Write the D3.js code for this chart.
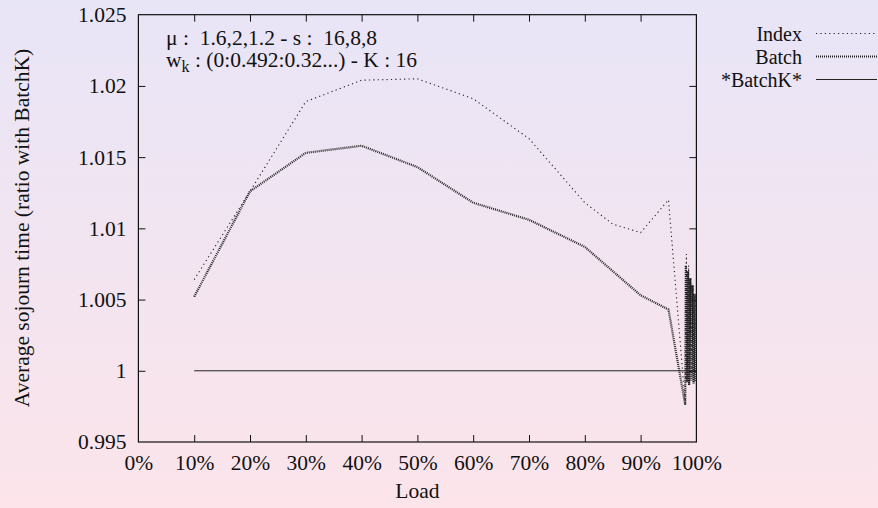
<!DOCTYPE html>
<html>
<head>
<meta charset="utf-8">
<script src="https://cdn.jsdelivr.net/npm/d3@7"></script>
<style>
  html, body { margin: 0; padding: 0; }
  svg { display: block; }
  svg text { font-family: "Liberation Serif", "Times New Roman", Tinos, "Noto Serif", "DejaVu Serif", FreeSerif, "Nimbus Roman", serif !important; }
  .pre { white-space: pre; }
</style>
</head>
<body>
<svg id="chart" width="878" height="508"></svg>
<script>
// ---- data ----
const indexLoads  = [0.10, 0.20, 0.30, 0.40, 0.50, 0.60, 0.70, 0.80, 0.85, 0.90, 0.95, 0.98,
                     0.982, 0.984, 0.986, 0.988, 0.990, 0.992, 0.994, 0.996, 0.998];
const indexValues = [1.0064, 1.0126, 1.0189, 1.0204, 1.0205, 1.0191, 1.0163, 1.0118, 1.0103, 1.0097, 1.0120, 0.9977,
                     1.0082, 0.9995, 1.0074, 0.9998, 1.0066, 0.9996, 1.0060, 1.0000, 1.0054];
const batchLoads  = [0.10, 0.20, 0.30, 0.40, 0.50, 0.60, 0.70, 0.80, 0.90, 0.95, 0.98,
                     0.981, 0.983, 0.985, 0.987, 0.989, 0.991, 0.993, 0.995, 0.997, 0.998];
const batchValues = [1.0052, 1.0126, 1.0153, 1.0158, 1.0143, 1.0118, 1.0106, 1.0087, 1.0053, 1.0043, 0.9976,
                     1.0074, 0.9992, 1.0070, 0.9990, 1.0065, 0.9993, 1.0060, 0.9991, 1.0054, 0.9993];
const batchKLoads  = [0.10, 1.00];
const batchKValues = [1.0, 1.0];
const xTicks = [0, 0.1, 0.2, 0.3, 0.4, 0.5, 0.6, 0.7, 0.8, 0.9, 1.0];
const yTicks = [0.995, 1.0, 1.005, 1.01, 1.015, 1.02, 1.025];
const yTickLabels = ["0.995", "1", "1.005", "1.01", "1.015", "1.02", "1.025"];
const seriesNames = ["Index", "Batch", "*BatchK*"];

// ---- layout ----
const W = 878, H = 508;
const mLeft = 138.4, mRight = 696.4, mTop = 14.7, mBottom = 442;
const svg = d3.select("#chart");

const defs = svg.append("defs");
const grad = defs.append("linearGradient").attr("id", "bg").attr("x1", 0).attr("y1", 0).attr("x2", 0).attr("y2", 1);
grad.append("stop").attr("offset", "0%").attr("stop-color", "#e8e5f7");
grad.append("stop").attr("offset", "100%").attr("stop-color", "#fce4ea");
svg.append("rect").attr("width", W).attr("height", H).attr("fill", "url(#bg)");

const x = d3.scaleLinear().domain([0, 1]).range([mLeft, mRight]);
const y = d3.scaleLinear().domain([0.995, 1.025]).range([mBottom, mTop]);

const fs = 21.5;
const axisColor = "#111";

function styleAxis(g) {
  g.attr("font-family", null);
  g.select(".domain").remove();
  g.selectAll(".tick line").attr("stroke", axisColor).attr("stroke-width", 1);
  g.selectAll(".tick text").attr("fill", "#111").style("font-size", fs + "px");
}

// bottom axis
svg.append("g").attr("transform", `translate(0,${mBottom})`)
  .call(d3.axisBottom(x).tickValues(xTicks).tickFormat(d => Math.round(d * 100) + "%")
    .tickSizeInner(-7).tickSizeOuter(0).tickPadding(13))
  .call(styleAxis)
  .call(g => g.selectAll(".tick").filter(d => d === 0 || d === 1).select("line").remove());
// top axis (mirror)
svg.append("g").attr("transform", `translate(0,${mTop})`)
  .call(d3.axisTop(x).tickValues(xTicks).tickFormat("").tickSizeInner(-7).tickSizeOuter(0))
  .call(styleAxis)
  .call(g => g.selectAll(".tick").filter(d => d === 0 || d === 1).select("line").remove());
// left axis
svg.append("g").attr("transform", `translate(${mLeft},0)`)
  .call(d3.axisLeft(y).tickValues(yTicks).tickFormat((d, i) => yTickLabels[i])
    .tickSizeInner(-7).tickSizeOuter(0).tickPadding(12))
  .call(styleAxis)
  .call(g => g.selectAll(".tick").filter(d => d === 0.995 || d === 1.025).select("line").remove());
// right axis (mirror)
svg.append("g").attr("transform", `translate(${mRight},0)`)
  .call(d3.axisRight(y).tickValues(yTicks).tickFormat("").tickSizeInner(-7).tickSizeOuter(0))
  .call(styleAxis)
  .call(g => g.selectAll(".tick").filter(d => d === 0.995 || d === 1.025).select("line").remove());

// frame
svg.append("rect").attr("x", mLeft).attr("y", mTop).attr("width", mRight - mLeft).attr("height", mBottom - mTop)
  .attr("fill", "none").attr("stroke", axisColor).attr("stroke-width", 1.2);

// axis titles
svg.append("text").attr("x", (mLeft + mRight) / 2).attr("y", 491).attr("text-anchor", "middle")
  .attr("dominant-baseline", "central").style("font-size", fs + "px").attr("fill", "#111").text("Load");
svg.append("text").attr("transform", `translate(22,228) rotate(-90)`).attr("text-anchor", "middle")
  .attr("dominant-baseline", "central").style("font-size", fs + "px").attr("fill", "#111")
  .text("Average sojourn time (ratio with BatchK)");

// annotation
const ann = svg.append("text").attr("class", "pre").attr("x", 166).attr("y", 45)
  .style("font-size", fs + "px").attr("fill", "#111");
ann.append("tspan").attr("x", 166).attr("y", 45).text("μ :  1.6,2,1.2 - s :  16,8,8");
const l2 = svg.append("text").attr("class", "pre").attr("x", 166).attr("y", 67)
  .style("font-size", fs + "px").attr("fill", "#111");
l2.append("tspan").text("w");
l2.append("tspan").attr("dy", 5).style("font-size", (fs * 0.75) + "px").text("k");
l2.append("tspan").attr("dy", -5).text(" : (0:0.492:0.32...) - K : 16");

// lines
const line = d3.line().x(d => x(d[0])).y(d => y(d[1]));
const styles = [
  { dash: "1.2,3.2", width: 1.1 },
  { dash: "1,1", width: 2.2 },
  { dash: null, width: 1 }
];
const seriesData = [
  d3.zip(indexLoads, indexValues),
  d3.zip(batchLoads, batchValues),
  d3.zip(batchKLoads, batchKValues)
];
seriesData.forEach((data, i) => {
  svg.append("path").datum(data).attr("d", line).attr("fill", "none")
    .attr("stroke", "#222").attr("stroke-width", styles[i].width)
    .attr("stroke-dasharray", styles[i].dash);
});

// legend
const legFs = 20;
const legY = [33.5, 56.5, 79.5];
seriesNames.forEach((name, i) => {
  svg.append("text").attr("x", 802).attr("y", legY[i]).attr("text-anchor", "end")
    .attr("dominant-baseline", "central").style("font-size", legFs + "px").attr("fill", "#111").text(name);
  svg.append("line").attr("x1", 816).attr("x2", 877).attr("y1", legY[i]).attr("y2", legY[i])
    .attr("stroke", "#222").attr("stroke-width", styles[i].width).attr("stroke-dasharray", styles[i].dash);
});
</script>
</body>
</html>
